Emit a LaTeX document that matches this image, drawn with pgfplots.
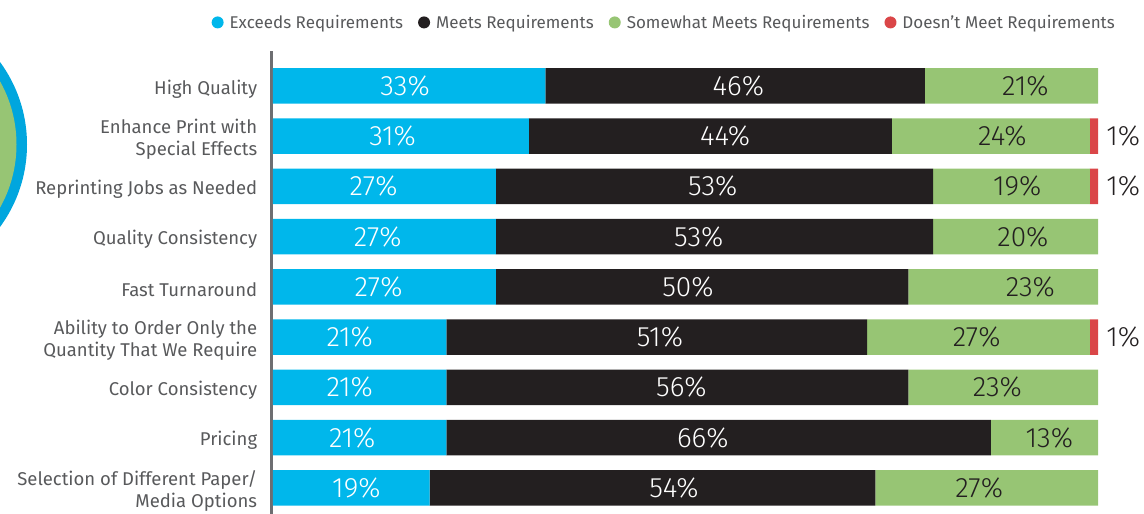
\documentclass[border=0pt]{standalone}
\usepackage{pgfplots}
\pgfplotsset{compat=1.18}
\usepackage{pgfplotstable}
\usepackage{fontspec}
\setmainfont{Fira Sans}
\newfontfamily\valfont{Fira Sans Light}
\definecolor{cexc}{HTML}{00B7EB}
\definecolor{cmeet}{HTML}{231F20}
\definecolor{csome}{HTML}{97C574}
\definecolor{cdont}{HTML}{DA4648}
\definecolor{ctext}{HTML}{58595B}
\definecolor{ringcyan}{HTML}{00A6DE}
\definecolor{caxis}{HTML}{6D6E71}

\pgfplotstableread{
y ex me so dn lc lm ls lab
0 33 46 21 0 16.0 56.4 91.2 {}
1 31 44 24 1 14.5 54.8 88.4 1\%
2 27 53 19 1 12.2 53.3 90.2 1\%
3 27 53 20 0 12.7 51.6 90.9 {}
4 27 50 23 0 12.8 50.3 91.8 {}
5 21 51 27 1 9.3 46.9 85.3 1\%
6 21 56 23 0 9.3 49.5 87.8 {}
7 21 66 13 0 9.6 52.1 94.1 {}
8 19 54 27 0 10.1 48.6 85.6 {}
}\data

\begin{document}
\begin{tikzpicture}
\path[use as bounding box] (0pt,0pt) rectangle (1144pt,514pt);
\begin{scope}
\clip (0pt,0pt) rectangle (1144pt,514pt);
\fill[ringcyan] (-112.5pt,369.5pt) circle (139.5pt);
\fill[csome] (-112.5pt,369.5pt) circle (129pt);
\end{scope}
\begin{axis}[
  at={(271.35pt,0pt)}, anchor=south west,
  scale only axis, width=826.65pt, height=463pt,
  xbar stacked, bar width=35.5pt,
  xmin=-0.2, xmax=100, ymin=-0.6925, ymax=8.521,
  enlargelimits=false, y dir=reverse, clip=false,
  axis x line=none, axis y line=left,
  axis line style={-, color=caxis, line width=2.7pt},
  ytick={0,...,8}, major tick length=0pt,
  yticklabels={High Quality,{Enhance Print with\\Special Effects},Reprinting Jobs as Needed,Quality Consistency,Fast Turnaround,{Ability to Order Only the\\Quantity That We Require},Color Consistency,Pricing,{Selection of Different Paper/\\Media Options}},
  yticklabel style={align=right, font=\fontsize{18.5}{22}\selectfont, text=ctext, inner sep=0pt, xshift=-14pt, yshift=-3pt},
  legend columns=4,
  legend style={draw=none, fill=none, at={(1,1)}, anchor=south east, xshift=19pt, yshift=19pt, font=\fontsize{17}{20}\selectfont, text=ctext, inner sep=0pt, /tikz/every even column/.append style={column sep=13pt}},
]
\addplot[fill=cexc, draw=none,
  legend image code/.code={\fill[cexc] (0pt,0pt) circle (6pt); \path (10pt,0pt);},
  point meta=explicit symbolic, nodes near coords={\pgfplotspointmeta\%},
  visualization depends on={\thisrow{lc}-0.5*\thisrow{ex} \as \sh},
  every node near coord/.append style={anchor=center, text=white, font=\valfont\fontsize{28}{30}\selectfont, xshift={\sh*8.25pt}}]
  table[x=ex, y=y, meta=ex] {\data};
\addplot[fill=cmeet, draw=none,
  legend image code/.code={\fill[cmeet] (0pt,0pt) circle (6pt); \path (10pt,0pt);},
  point meta=explicit symbolic, nodes near coords={\pgfplotspointmeta\%},
  visualization depends on={\thisrow{lm}-\thisrow{ex}-0.5*\thisrow{me} \as \sh},
  every node near coord/.append style={anchor=center, text=white, font=\valfont\fontsize{28}{30}\selectfont, xshift={\sh*8.25pt}}]
  table[x=me, y=y, meta=me] {\data};
\addplot[fill=csome, draw=none,
  legend image code/.code={\fill[csome] (0pt,0pt) circle (6pt); \path (10pt,0pt);},
  point meta=explicit symbolic, nodes near coords={\pgfplotspointmeta\%},
  visualization depends on={\thisrow{ls}-\thisrow{ex}-\thisrow{me}-0.5*\thisrow{so} \as \sh},
  every node near coord/.append style={anchor=center, text=cmeet, font=\valfont\fontsize{28}{30}\selectfont, xshift={\sh*8.25pt}}]
  table[x=so, y=y, meta=so] {\data};
\addplot[fill=cdont, draw=none,
  legend image code/.code={\fill[cdont] (0pt,0pt) circle (6pt); \path (10pt,0pt);},
  point meta=explicit symbolic, nodes near coords={\pgfplotspointmeta},
  every node near coord/.append style={anchor=west, text=cmeet, font=\valfont\fontsize{28}{30}\selectfont, xshift=9pt}]
  table[x=dn, y=y, meta=lab] {\data};
\legend{Exceeds Requirements, Meets Requirements, Somewhat Meets Requirements, Doesn’t Meet Requirements}
\end{axis}
\end{tikzpicture}
\end{document}
